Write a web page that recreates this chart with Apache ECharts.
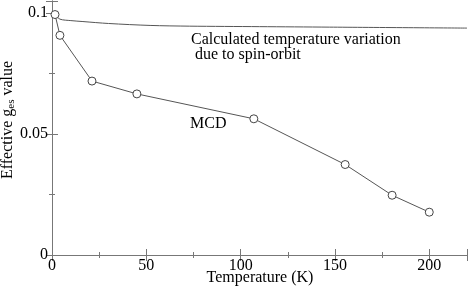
<!DOCTYPE html>
<html><head><meta charset="utf-8">
<script src="https://cdn.jsdelivr.net/npm/echarts@6/dist/echarts.min.js"></script>
<style>html,body{margin:0;padding:0;background:#fff}#c{width:469px;height:288px}</style>
</head><body><div id="c"></div>
<script>
var mcdT = [1.6, 4.2, 21.2, 45, 107, 155.4, 180.3, 200];
var mcdG = [0.0994, 0.0908, 0.0719, 0.0666, 0.0563, 0.0374, 0.0247, 0.0177];
var calcT = [1.6, 4.2, 10, 16.4, 30, 52, 73, 110, 147, 220];
var calcG = [0.0994, 0.0975, 0.0969, 0.0965, 0.0957, 0.0949, 0.0946, 0.0944, 0.0942, 0.0938];
var xTicks = [0, 50, 100, 150, 200];
var yTicks = [0, 0.05, 0.1];

var F = 'Liberation Serif';
var axisCol = '#777';
function pairs(a, b) { return a.map(function (v, i) { return [v, b[i]]; }); }
function xAx(pos, lab) {
  return {
    type: 'value', position: pos, min: 0, max: 220, interval: 50,
    axisLine: { show: true, lineStyle: { color: axisCol, width: 1 } },
    axisTick: { show: true, inside: true, length: 6, lineStyle: { color: axisCol } },
    minorTick: { show: true, splitNumber: 2, length: 3, lineStyle: { color: axisCol } },
    splitLine: { show: false },
    axisLabel: { show: lab, showMaxLabel: false, margin: 3, color: '#000', fontFamily: F, fontSize: 16,
      formatter: function (v) { return xTicks.indexOf(v) >= 0 ? String(v) : ''; } }
  };
}
function yAx(pos, lab) {
  return {
    type: 'value', position: pos, min: 0, max: 0.105, interval: 0.05,
    axisLine: { show: true, lineStyle: { color: axisCol, width: 1 } },
    axisTick: { show: true, inside: true, length: 6, lineStyle: { color: axisCol } },
    minorTick: { show: true, splitNumber: 2, length: 3, lineStyle: { color: axisCol } },
    splitLine: { show: false },
    axisLabel: { show: lab, showMaxLabel: false, margin: 4, color: '#000', fontFamily: F, fontSize: 16,
      formatter: function (v) { var r = yTicks.filter(function (t) { return Math.abs(t - v) < 1e-9; }); return r.length ? String(r[0]) : ''; } }
  };
}
var chart = echarts.init(document.getElementById('c'));
chart.setOption({
  animation: false,
  grid: { left: 52, right: 2, top: 1, bottom: 33, outerBoundsMode: 'none', containLabel: false },
  xAxis: [xAx('bottom', true), xAx('top', false)],
  yAxis: [yAx('left', true), yAx('right', false)],
  series: [
    { type: 'line', xAxisIndex: 0, yAxisIndex: 0, data: pairs(calcT, calcG), smooth: 0.3, showSymbol: false,
      lineStyle: { color: '#555', width: 1 } },
    { type: 'line', xAxisIndex: 0, yAxisIndex: 0, data: pairs(mcdT, mcdG), symbol: 'circle', symbolSize: 8,
      lineStyle: { color: '#555', width: 1 }, itemStyle: { color: '#fff', borderColor: '#444', borderWidth: 1 } }
  ],
  graphic: [
    { type: 'text', x: 191, y: 32, style: { text: 'Calculated temperature variation\n due to spin-orbit', font: '16px "Liberation Serif"', fill: '#000', lineHeight: 15 } },
    { type: 'text', x: 190, y: 116, style: { text: 'MCD', font: '16px "Liberation Serif"', fill: '#000' } },
    { type: 'text', x: 260, y: 278, style: { text: 'Temperature (K)', font: '16px "Liberation Serif"', fill: '#000', align: 'center', verticalAlign: 'middle' } },
    { type: 'text', x: 9, y: 120, rotation: Math.PI / 2,
      style: { text: '{a|Effective g}{s|es}{a| value}', align: 'center', verticalAlign: 'middle',
        rich: { a: { fontFamily: F, fontSize: 16, fill: '#000', lineHeight: 18, verticalAlign: 'top' },
                s: { fontFamily: F, fontSize: 11, fill: '#000', lineHeight: 11, padding: [6, 0, 0, 0], verticalAlign: 'top' } } } }
  ]
});
</script></body></html>
